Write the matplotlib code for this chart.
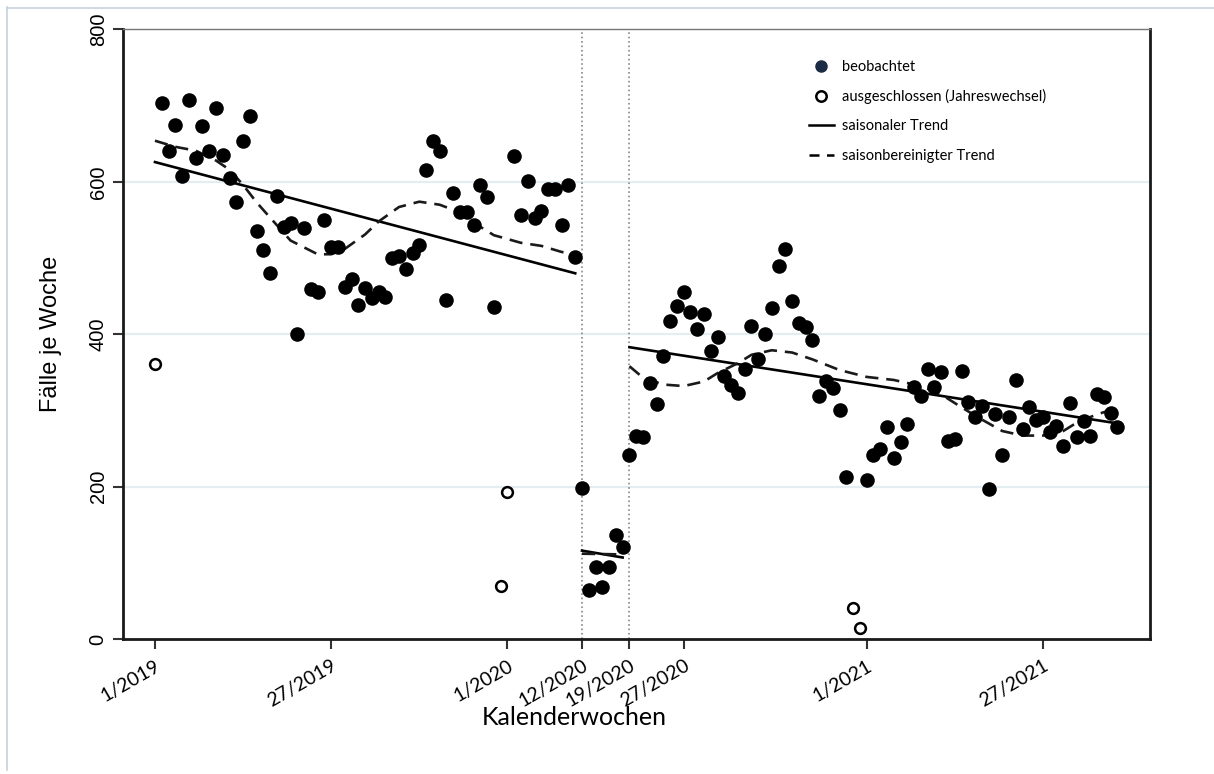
import matplotlib
matplotlib.use("Agg")
import matplotlib.pyplot as plt
from matplotlib.lines import Line2D

# weekly cases, index 0 = week 1/2019 (2020 has 53 weeks)
faelle = [
    361, 704, 640, 675, 608, 708, 631, 673, 640, 697,
    635, 605, 574, 653, 686, 536, 510, 481, 581, 541,
    546, 400, 539, 459, 456, 550, 514, 514, 462, 473,
    438, 461, 447, 456, 449, 500, 503, 485, 507, 517,
    615, 653, 641, 445, 585, 561, 561, 543, 596, 580,
    436, 70, 193, 634, 556, 601, 552, 562, 590, 590,
    544, 596, 502, 198, 64, 94, 68, 94, 137, 121,
    242, 266, 265, 336, 308, 372, 418, 437, 456, 429,
    407, 426, 378, 396, 345, 334, 323, 354, 411, 368,
    400, 434, 489, 512, 444, 415, 409, 393, 319, 339,
    329, 301, 213, 41, 15, 209, 241, 250, 278, 237,
    259, 282, 331, 319, 354, 331, 350, 260, 262, 352,
    311, 291, 306, 197, 295, 242, 291, 340, 275, 305,
    287, 291, 272, 279, 253, 310, 265, 286, 266, 321,
    317, 296, 278,
]
ausgeschlossen = [0, 51, 52, 103, 104]  # year-change weeks

# saisonaler Trend: (start week, end week, start value, end value)
trend_wochen = [(0, 62), (63, 69), (70, 142)]
trend_werte = [(626, 480), (116, 107), (383, 283)]

# saisonbereinigter Trend
sb_wochen_1 = [0, 3, 6, 9, 11, 13, 15, 17, 20, 24, 26, 28, 31, 33, 36, 39,
               42, 45, 48, 50, 54, 57, 60, 62]
sb_werte_1 = [654, 646, 641, 628, 616, 596, 573, 553, 523, 505, 505, 512, 531,
              548, 567, 574, 570, 560, 541, 530, 520, 516, 508, 505]
sb_wochen_2 = [63, 69]
sb_werte_2 = [112, 111]
sb_wochen_3 = [70, 72, 75, 78, 81, 83, 86, 88, 91, 94, 97, 101, 105, 109, 113,
               116, 119, 122, 125, 128, 131, 134, 136, 139, 142]
sb_werte_3 = [358, 343, 334, 332, 338, 349, 362, 373, 379, 376, 367, 353, 344,
              340, 332, 321, 304, 288, 273, 267, 267, 273, 284, 295, 303]

tick_wochen = [0, 26, 52, 63, 70, 78, 105, 131]
tick_labels = ["1/2019", "27/2019", "1/2020", "12/2020", "19/2020", "27/2020",
               "1/2021", "27/2021"]
trenn_wochen = [63, 70]


def main():
    fig = plt.figure(figsize=(12.14, 7.74), dpi=100)
    ax = fig.add_axes([0.1013, 0.1744, 0.846, 0.7875])

    ax.set_xlim(-4.72, 146.8)
    ax.set_ylim(0, 800)

    ax.yaxis.grid(True, color="#e4eef2", linewidth=1.6)
    ax.set_axisbelow(True)

    for w in trenn_wochen:
        ax.axvline(w, color="#888888", linestyle=":", linewidth=1.2, zorder=1)

    beob_x = [i for i in range(len(faelle)) if i not in ausgeschlossen]
    beob_y = [faelle[i] for i in beob_x]
    aus_y = [faelle[i] for i in ausgeschlossen]
    ax.scatter(beob_x, beob_y, s=110, color="black", zorder=3, linewidths=0)
    ax.scatter(ausgeschlossen, aus_y, s=60, facecolor="white", edgecolor="black",
               linewidths=1.8, zorder=3)

    for (w0, w1), (v0, v1) in zip(trend_wochen, trend_werte):
        ax.plot([w0, w1], [v0, v1], color="black", linewidth=1.9, zorder=2)
    for xs, ys in [(sb_wochen_1, sb_werte_1), (sb_wochen_2, sb_werte_2),
                   (sb_wochen_3, sb_werte_3)]:
        ax.plot(xs, ys, color="#1a1a1a", linewidth=1.9, dashes=(5, 3), zorder=2)

    ax.set_xticks(tick_wochen)
    ax.set_xticklabels(tick_labels, rotation=30, ha="right",
                       rotation_mode="anchor", fontsize=14, family="Lato")
    ax.set_yticks([0, 200, 400, 600, 800])
    ax.set_yticklabels(["0", "200", "400", "600", "800"], rotation=90,
                       va="center", fontsize=14.5, family="Liberation Sans")
    ax.tick_params(axis="both", length=7, width=1.5, color="#333333")
    ax.tick_params(axis="x", pad=6)
    ax.tick_params(axis="y", pad=4)

    for side in ["left", "bottom", "right"]:
        ax.spines[side].set_linewidth(2.0)
        ax.spines[side].set_color("#1a1a1a")
    ax.spines["top"].set_linewidth(1.0)
    ax.spines["top"].set_color("#777777")

    ax.set_ylabel("Fälle je Woche", fontsize=17, family="Liberation Sans",
                  labelpad=19)
    fig.text(0.4728, 0.073, "Kalenderwochen", ha="center", va="center",
             fontsize=18, family="Lato")

    handles = [
        Line2D([], [], marker="o", linestyle="none", markersize=8,
               markerfacecolor="#1c2b45", markeredgecolor="#1c2b45"),
        Line2D([], [], marker="o", linestyle="none", markersize=7.5,
               markerfacecolor="white", markeredgecolor="black",
               markeredgewidth=1.8),
        Line2D([], [], color="black", linewidth=1.8),
        Line2D([], [], color="black", linewidth=1.8, dashes=(4, 3)),
    ]
    labels = ["beobachtet", "ausgeschlossen (Jahreswechsel)",
              "saisonaler Trend", "saisonbereinigter Trend"]
    ax.legend(handles, labels, loc="upper left", bbox_to_anchor=(0.655, 0.972),
              frameon=False, prop={"family": "Lato", "size": 10.5},
              handlelength=1.7, handletextpad=0.55, labelspacing=1.05)

    # thin frame around the figure (left and top edge)
    fig.add_artist(Line2D([0.0058, 0.0058], [0.991, 0.005], color="#c5d2de",
                          linewidth=1.2, transform=fig.transFigure))
    fig.add_artist(Line2D([0.0058, 1.0], [0.990, 0.990], color="#c5d2de",
                          linewidth=1.2, transform=fig.transFigure))

    fig.savefig("out.png", dpi=100, facecolor="white")


if __name__ == "__main__":
    main()
